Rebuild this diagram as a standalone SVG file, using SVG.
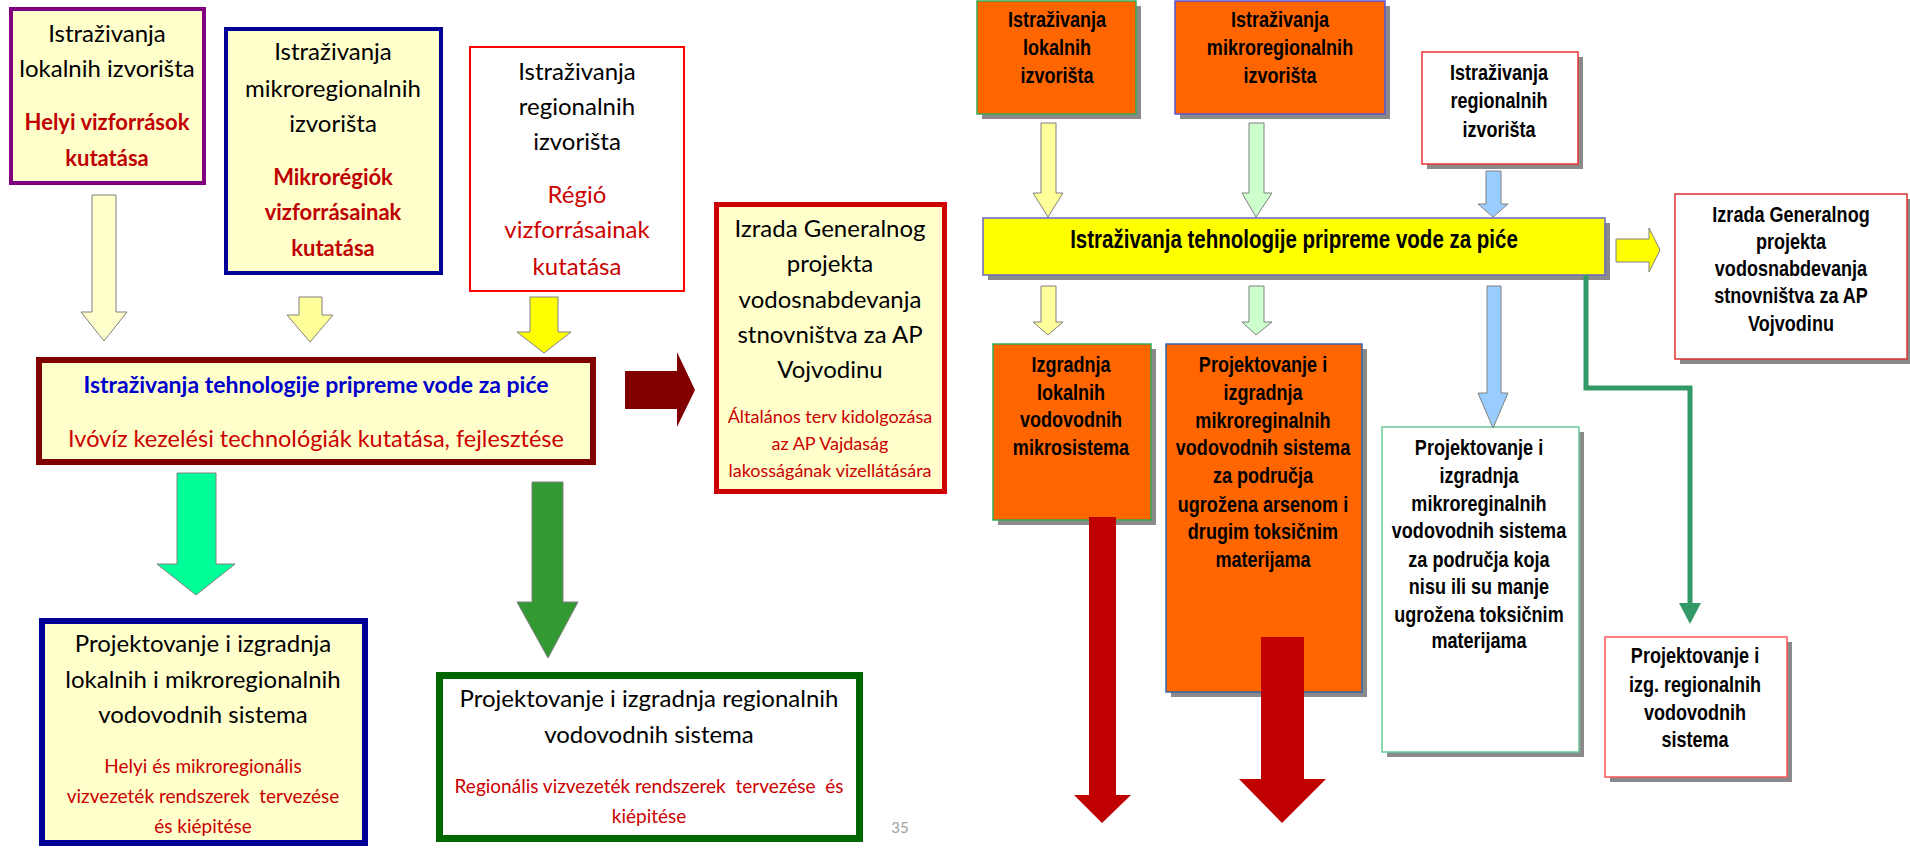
<svg xmlns="http://www.w3.org/2000/svg" width="1910" height="849" viewBox="0 0 1910 849">
<style>
.bg{fill:#ffffff}
.ly{fill:#FFFFCC}
.lt{font-family:Lato,"Liberation Sans",sans-serif;font-size:24px;fill:#000;text-anchor:middle}
.lr{font-family:Lato,"Liberation Sans",sans-serif;font-size:24px;fill:#CC0000;text-anchor:middle}
.lrb{font-family:Lato,"Liberation Sans",sans-serif;font-size:22px;fill:#C00000;font-weight:bold;text-anchor:middle}
.ls{font-family:Lato,"Liberation Sans",sans-serif;font-size:18px;fill:#CC0000;text-anchor:middle;white-space:pre}
.rt{font-family:"Liberation Sans",Arial,sans-serif;font-size:22px;font-weight:bold;fill:#000;text-anchor:middle}
.sh{fill:#8a8a8a}
.or{fill:#FF6600}
.ar{stroke:#808080;stroke-width:1}
</style>
<rect class="bg" x="0" y="0" width="1910" height="849"/>

<g id="box-lokalnih">
<rect class="ly" x="11" y="9" width="193" height="174" stroke="#800080" stroke-width="4"/>
<text class="lt"><tspan x="107" y="42">Istraživanja</tspan><tspan x="107" y="77">lokalnih izvorišta</tspan></text>
<text class="lrb"><tspan x="107" y="130">Helyi vizforrások</tspan><tspan x="107" y="166">kutatása</tspan></text>
</g>

<g id="box-mikroregionalnih">
<rect class="ly" x="226" y="29" width="215" height="244" stroke="#000099" stroke-width="4"/>
<text class="lt"><tspan x="333" y="60">Istraživanja</tspan><tspan x="333" y="97">mikroregionalnih</tspan><tspan x="333" y="132">izvorišta</tspan></text>
<text class="lrb"><tspan x="333" y="185">Mikrorégiók</tspan><tspan x="333" y="220">vizforrásainak</tspan><tspan x="333" y="256">kutatása</tspan></text>
</g>

<g id="box-regionalnih">
<rect x="470" y="47" width="214" height="244" fill="#ffffff" stroke="#FF0000" stroke-width="2"/>
<text class="lt"><tspan x="577" y="80">Istraživanja</tspan><tspan x="577" y="115">regionalnih</tspan><tspan x="577" y="150">izvorišta</tspan></text>
<text class="lr"><tspan x="577" y="203">Régió</tspan><tspan x="577" y="238">vizforrásainak</tspan><tspan x="577" y="275">kutatása</tspan></text>
</g>

<g id="box-generalni-left">
<rect class="ly" x="716.5" y="204.5" width="228" height="287" stroke="#CC0000" stroke-width="5"/>
<text class="lt"><tspan x="830" y="237">Izrada Generalnog</tspan><tspan x="830" y="272">projekta</tspan><tspan x="830" y="308">vodosnabdevanja</tspan><tspan x="830" y="343">stnovništva za AP</tspan><tspan x="830" y="378">Vojvodinu</tspan></text>
<text class="ls"><tspan x="830" y="423">Általános terv kidolgozása</tspan><tspan x="830" y="450">az AP Vajdaság</tspan><tspan x="830" y="477">lakosságának vizellátására</tspan></text>
</g>

<g id="box-tehnologija-left">
<rect class="ly" x="39" y="360" width="554" height="102" stroke="#800000" stroke-width="6"/>
<text class="lt" x="316" y="393" style="fill:#0000CC;font-weight:bold;font-size:23px">Istraživanja tehnologije pripreme vode za piće</text>
<text class="lr" x="316" y="447" style="font-size:23.5px">Ivóvíz kezelési technológiák kutatása, fejlesztése</text>
</g>

<g id="box-lokalni-sistemi">
<rect class="ly" x="42" y="621" width="323" height="222" stroke="#000099" stroke-width="6"/>
<text class="lt"><tspan x="203" y="652">Projektovanje i izgradnja</tspan><tspan x="203" y="688">lokalnih i mikroregionalnih</tspan><tspan x="203" y="723">vodovodnih sistema</tspan></text>
<text class="ls" style="font-size:19px"><tspan x="203" y="773">Helyi és mikroregionális</tspan><tspan x="203" y="803">vizvezeték rendszerek  tervezése</tspan><tspan x="203" y="833">és kiépitése</tspan></text>
</g>

<g id="box-regionalni-sistemi">
<rect x="439.5" y="675.5" width="420" height="163" fill="#ffffff" stroke="#006600" stroke-width="7"/>
<text class="lt"><tspan x="649" y="707">Projektovanje i izgradnja regionalnih</tspan><tspan x="649" y="743">vodovodnih sistema</tspan></text>
<text class="ls" style="font-size:19px"><tspan x="649" y="793">Regionális vizvezeték rendszerek  tervezése  és</tspan><tspan x="649" y="823">kiépitése</tspan></text>
</g>

<g id="page-number">
<text x="900" y="833" font-family="Lato,'Liberation Sans',sans-serif" font-size="15" fill="#A0A0A0" text-anchor="middle">35</text>
</g>

<!-- right side -->
<g id="r-lokalnih">
<rect class="sh" x="982" y="6" width="159" height="113"/>
<rect class="or" x="977" y="1" width="159" height="113" stroke="#33AA55" stroke-width="1.5"/>
<text class="rt" transform="translate(1057 0) scale(0.82 1)"><tspan x="0" y="27">Istraživanja</tspan><tspan x="0" y="55">lokalnih</tspan><tspan x="0" y="83">izvorišta</tspan></text>
</g>

<g id="r-mikroregionalnih">
<rect class="sh" x="1180" y="6" width="210" height="113"/>
<rect class="or" x="1175" y="1" width="210" height="113" stroke="#5555DD" stroke-width="1.5"/>
<text class="rt" transform="translate(1280 0) scale(0.82 1)"><tspan x="0" y="27">Istraživanja</tspan><tspan x="0" y="55">mikroregionalnih</tspan><tspan x="0" y="83">izvorišta</tspan></text>
</g>

<g id="r-regionalnih">
<rect class="sh" x="1427" y="57" width="156" height="112"/>
<rect x="1422" y="52" width="156" height="112" fill="#ffffff" stroke="#EE3333" stroke-width="1.5"/>
<text class="rt" transform="translate(1499 0) scale(0.82 1)"><tspan x="0" y="80">Istraživanja</tspan><tspan x="0" y="108">regionalnih</tspan><tspan x="0" y="137">izvorišta</tspan></text>
</g>

<g id="r-tehnologija">
<rect class="sh" x="988" y="223" width="622" height="57"/>
<rect x="983" y="218" width="622" height="57" fill="#FFFF00" stroke="#6666CC" stroke-width="1.5"/>
<text class="rt" style="font-size:25px" transform="translate(1294 0) scale(0.82 1)" x="0" y="248">Istraživanja tehnologije pripreme vode za piće</text>
</g>

<g id="r-generalni">
<rect class="sh" x="1680" y="199" width="232" height="165"/>
<rect x="1675" y="194" width="232" height="165" fill="#ffffff" stroke="#DD3333" stroke-width="1.5"/>
<text class="rt" transform="translate(1791 0) scale(0.82 1)"><tspan x="0" y="222">Izrada Generalnog</tspan><tspan x="0" y="249">projekta</tspan><tspan x="0" y="276">vodosnabdevanja</tspan><tspan x="0" y="303">stnovništva za AP</tspan><tspan x="0" y="331">Vojvodinu</tspan></text>
</g>

<g id="r-izgradnja-lokalnih">
<rect class="sh" x="998" y="349" width="158" height="176"/>
<rect class="or" x="993" y="344" width="158" height="176" stroke="#33AA55" stroke-width="1.5"/>
<text class="rt" transform="translate(1071 0) scale(0.82 1)"><tspan x="0" y="372">Izgradnja</tspan><tspan x="0" y="400">lokalnih</tspan><tspan x="0" y="427">vodovodnih</tspan><tspan x="0" y="455">mikrosistema</tspan></text>
</g>

<g id="r-arsen">
<rect class="sh" x="1171" y="349" width="196" height="348"/>
<rect class="or" x="1166" y="344" width="196" height="348" stroke="#3366AA" stroke-width="1.5"/>
<text class="rt" transform="translate(1263 0) scale(0.82 1)"><tspan x="0" y="372">Projektovanje i</tspan><tspan x="0" y="400">izgradnja</tspan><tspan x="0" y="428">mikroreginalnih</tspan><tspan x="0" y="455">vodovodnih sistema</tspan><tspan x="0" y="483">za područja</tspan><tspan x="0" y="512">ugrožena arsenom i</tspan><tspan x="0" y="539">drugim toksičnim</tspan><tspan x="0" y="567">materijama</tspan></text>
</g>

<g id="r-manje-ugrozena">
<rect class="sh" x="1387" y="432" width="197" height="325"/>
<rect x="1382" y="427" width="197" height="325" fill="#ffffff" stroke="#66CC99" stroke-width="1.5"/>
<text class="rt" transform="translate(1479 0) scale(0.82 1)"><tspan x="0" y="455">Projektovanje i</tspan><tspan x="0" y="483">izgradnja</tspan><tspan x="0" y="511">mikroreginalnih</tspan><tspan x="0" y="538">vodovodnih sistema</tspan><tspan x="0" y="567">za područja koja</tspan><tspan x="0" y="594">nisu ili su manje</tspan><tspan x="0" y="622">ugrožena toksičnim</tspan><tspan x="0" y="648">materijama</tspan></text>
</g>

<g id="r-regionalni-sistemi">
<rect class="sh" x="1610" y="642" width="182" height="140"/>
<rect x="1605" y="637" width="182" height="140" fill="#ffffff" stroke="#FF5555" stroke-width="1.5"/>
<text class="rt" transform="translate(1695 0) scale(0.82 1)"><tspan x="0" y="663">Projektovanje i</tspan><tspan x="0" y="692">izg. regionalnih</tspan><tspan x="0" y="720">vodovodnih</tspan><tspan x="0" y="747">sistema</tspan></text>
</g>

<g id="connectors">
<!-- left -->
<polygon class="ar" fill="#FFFFCC" points="92,195 116,195 116,312 127,312 104,341 81,312 92,312"/>
<polygon class="ar" fill="#FFFF99" points="299,297 322,297 322,315 333,315 310,342 287,315 299,315"/>
<polygon class="ar" fill="#FFFF00" points="530,297 558,297 558,332 571,332 544,353 517,332 530,332"/>
<polygon class="ar" fill="#00FF99" points="177,473 216,473 216,564 235,564 196,595 157,564 177,564"/>
<polygon class="ar" fill="#339933" points="532,482 563,482 563,602 578,602 548,658 517,602 532,602"/>
<polygon fill="#800000" points="625,371 677,371 677,352 695,390 677,427 677,409 625,409"/>
<!-- right -->
<polygon class="ar" fill="#FFFF99" points="1041,123 1056,123 1056,193 1063,193 1048,217 1033,193 1041,193"/>
<polygon class="ar" fill="#CCFFCC" points="1249,123 1264,123 1264,193 1272,193 1256,217 1242,193 1249,193"/>
<polygon class="ar" fill="#99CCFF" points="1486,171 1501,171 1501,204 1508,204 1493,217 1478,204 1486,204"/>
<polygon class="ar" fill="#FFFF99" points="1041,286 1056,286 1056,322 1063,322 1048,335 1033,322 1041,322"/>
<polygon class="ar" fill="#CCFFCC" points="1249,286 1264,286 1264,322 1272,322 1256,335 1242,322 1249,322"/>
<polygon class="ar" fill="#99CCFF" points="1487,286 1501,286 1501,393 1508,393 1493,428 1478,393 1487,393"/>
<polygon class="ar" fill="#FFFF00" points="1616,239 1649,239 1649,228 1660,250 1649,272 1649,262 1616,262"/>
<polygon fill="#C00000" points="1089,517 1116,517 1116,795 1131,795 1102,823 1074,795 1089,795"/>
<polygon fill="#C00000" points="1261,637 1304,637 1304,779 1326,779 1282,823 1239,779 1261,779"/>
<polyline fill="none" stroke="#339966" stroke-width="5" points="1586,275 1586,388 1690,388 1690,604"/>
<polygon fill="#339966" points="1679,603 1701,603 1690,624"/>
</g>
</svg>
